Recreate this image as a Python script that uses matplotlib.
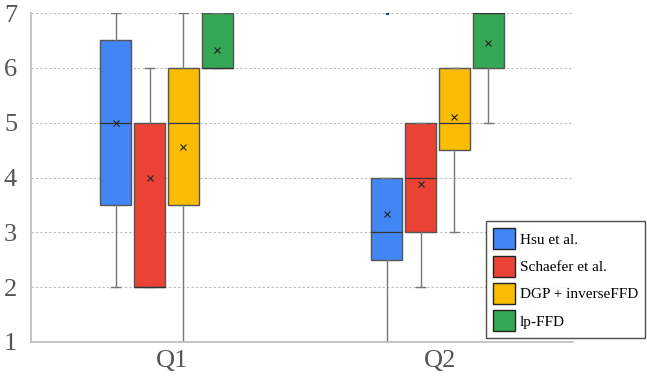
import matplotlib.pyplot as plt
from matplotlib.patches import Patch

questions = ["Q1", "Q2"]
methods = ["Hsu et al.", "Schaefer et al.", "DGP + inverseFFD", "lp-FFD"]
colors = ["#4285f4", "#ea4335", "#fbbc04", "#34a853"]

# per question, per method: whisker low, q1, median, q3, whisker high, mean
whislo = [[2, 2, 1, 6], [1, 2, 3, 5]]
q1 = [[3.5, 2, 3.5, 6], [2.5, 3, 4.5, 6]]
med = [[5, 2, 5, 6], [3, 4, 5, 7]]
q3 = [[6.5, 5, 6, 7], [4, 5, 6, 7]]
whishi = [[7, 6, 7, 7], [4, 5, 6, 7]]
means = [[5.0, 4.0, 4.55, 6.33], [3.33, 3.88, 5.1, 6.45]]
fliers = [[[], [], [], []], [[7], [], [], []]]

plt.rcParams['font.family'] = ['Liberation Serif', 'DejaVu Serif']

fig = plt.figure(figsize=(6.47, 3.77), dpi=100)
ax = fig.add_axes([31 / 647, 1 - 342 / 377, 542 / 647, 329 / 377])

step = 0.125
width = 0.114
for g in range(len(questions)):
    for m in range(len(methods)):
        stats = [dict(whislo=whislo[g][m], q1=q1[g][m], med=med[g][m],
                      q3=q3[g][m], whishi=whishi[g][m], mean=means[g][m],
                      fliers=fliers[g][m])]
        pos = g + 1 + (m - 1.5) * step
        ax.bxp(stats, positions=[pos], widths=width, patch_artist=True,
               showmeans=True, manage_ticks=False,
               boxprops=dict(facecolor=colors[m], edgecolor="#555555", linewidth=1),
               medianprops=dict(color="#333333", linewidth=0.9),
               whiskerprops=dict(color="#777777", linewidth=1),
               capprops=dict(color="#777777", linewidth=1),
               capwidths=0.035,
               meanprops=dict(marker="x", markeredgecolor="#222222",
                              markersize=4, markeredgewidth=0.8),
               flierprops=dict(marker=".", markersize=3,
                               markerfacecolor="#1f3a6e", markeredgecolor="#1f3a6e"))

ax.set_xlim(0.5, 2.5)
ax.set_ylim(1, 7)
ax.set_yticks(range(1, 8))
ax.set_xticks([1.02, 2.01])
ax.set_xticklabels(questions)
ax.tick_params(length=0, labelsize=19, colors="#555555", pad=6)
ax.tick_params(axis="y", pad=10)
ax.yaxis.grid(True, linestyle=(0, (2, 2)), color="#bbbbbb", linewidth=0.8)
ax.set_axisbelow(True)
for side in ["top", "right"]:
    ax.spines[side].set_visible(False)
for side in ["left", "bottom"]:
    ax.spines[side].set_color("#bbbbbb")
    ax.spines[side].set_linewidth(1.2)

handles = [Patch(facecolor=c, edgecolor="#222222") for c in colors]
leg = fig.legend(handles, methods, loc="lower right",
                 bbox_to_anchor=(645 / 647, 1 - 338 / 377),
                 fontsize=11, frameon=True, fancybox=False,
                 handlelength=1.45, handleheight=1.75, handletextpad=0.3,
                 labelspacing=0.4, borderpad=0.45, borderaxespad=0)
leg.get_frame().set_edgecolor("#222222")
leg.get_frame().set_linewidth(1)

fig.savefig("out.png", dpi=100)
